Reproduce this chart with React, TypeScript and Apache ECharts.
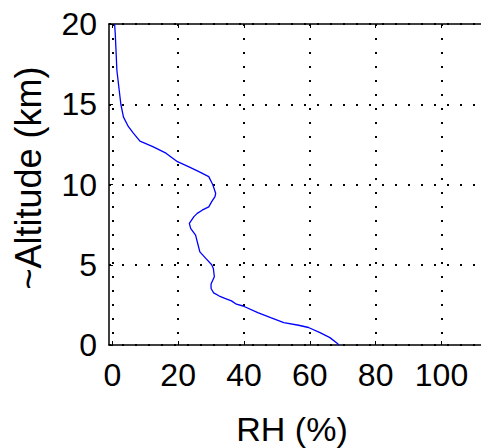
import React, { useEffect, useRef } from "react";
import * as echarts from "echarts";

const altitudeKm = [
  0, 0.09, 0.46, 0.77, 1.09, 1.23, 1.4, 1.71, 2.02, 2.43, 2.54, 2.75, 2.9, 3.05, 3.25,
  3.52, 3.8, 4.25, 4.77, 5.0, 5.4, 5.8, 6.2, 6.85, 7.27, 7.58, 8.0, 8.2, 8.4, 8.61,
  8.93, 9.24, 9.45, 10.0, 10.49, 10.8, 11.1, 11.42, 11.95, 12.36, 12.7, 13.2, 13.6,
  14.2, 15.0, 17.1, 19.4, 20.0,
];
const rhPercent = [
  68.8, 68.4, 66.1, 63.1, 59.6, 56.6, 52.1, 48.1, 44.2, 39.7, 37.7, 36.2, 34.2, 32.5, 30.8,
  30.0, 30.0, 31.0, 30.7, 30.2, 28.4, 26.6, 26.1, 25.3, 23.8, 23.4, 24.8, 25.8, 27.3, 29.3,
  30.2, 31.2, 31.4, 30.5, 29.3, 26.3, 23.3, 19.8, 16.3, 12.3, 8.4, 6.4, 4.9,
  3.4, 2.6, 1.4, 0.9, 0.7,
];
const xTicks = [0, 20, 40, 60, 80, 100];
const xName = "RH (%)";
const yName = "~Altitude (km)";

export default function App() {
  const ref = useRef<HTMLDivElement>(null);
  useEffect(() => {
    if (!ref.current) return;
    const chart = echarts.init(ref.current, null, { renderer: "svg" });
    const font = "'Liberation Sans', Arial, sans-serif";
    chart.setOption({
      animation: false,
      backgroundColor: "#fff",
      grid: { left: 109, top: 24, width: 379, height: 321, containLabel: false },
      xAxis: [
        {
          type: "value",
          position: "bottom",
          min: -1,
          max: 112,
          axisLine: { show: true, onZero: false, lineStyle: { color: "#000", width: 1.5 } },
          axisTick: { show: true, inside: true, length: 4, customValues: xTicks, lineStyle: { color: "#000" } },
          axisLabel: {
            customValues: xTicks,
            margin: 14,
            fontSize: 32,
            fontFamily: font,
            color: "#000",
          },
          splitLine: { show: true, lineStyle: { color: "#000", type: [2, 12], width: 2 } },
        },
        {
          type: "value",
          position: "top",
          min: -1,
          max: 112,
          axisLine: { show: true, onZero: false, lineStyle: { color: "#000", width: 1.5 } },
          axisTick: { show: true, inside: true, length: 4, customValues: xTicks, lineStyle: { color: "#000" } },
          axisLabel: { show: false },
          splitLine: { show: false },
        },
      ],
      yAxis: {
        type: "value",
        min: 0,
        max: 20,
        interval: 5,
        axisLine: { show: true, onZero: false, lineStyle: { color: "#000", width: 1.5 } },
        axisTick: { show: true, inside: true, length: 4, lineStyle: { color: "#000" } },
        axisLabel: { margin: 12, fontSize: 32, fontFamily: font, color: "#000" },
        splitLine: { show: true, lineStyle: { color: "#000", type: [2, 11], width: 2 } },
      },
      graphic: [
        {
          type: "text",
          x: 292,
          y: 429,
          style: { text: xName, fontSize: 34, fontFamily: font, fill: "#000", align: "center", verticalAlign: "middle" },
        },
        {
          type: "text",
          x: 28,
          y: 178,
          rotation: Math.PI / 2,
          style: { text: yName, fontSize: 36, fontFamily: font, fill: "#000", align: "center", verticalAlign: "middle" },
        },
      ],
      series: [
        {
          type: "line",
          xAxisIndex: 0,
          data: altitudeKm.map((a, i) => [rhPercent[i], a]),
          showSymbol: false,
          smooth: false,
          lineStyle: { color: "#0000ff", width: 1.3 },
        },
      ],
    });
    return () => chart.dispose();
  }, []);
  return <div ref={ref} style={{ position: "fixed", left: 0, top: 0, width: 481, height: 448 }} />;
}
